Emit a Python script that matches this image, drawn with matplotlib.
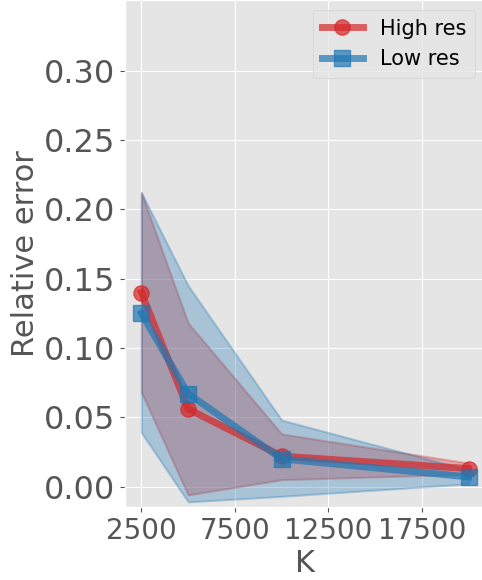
import matplotlib
matplotlib.use("Agg")
import matplotlib.pyplot as plt

plt.style.use("ggplot")

K = [2500, 5000, 10000, 20000]

high_mean = [0.140, 0.056, 0.022, 0.013]
high_lower = [0.068, -0.006, 0.005, 0.009]
high_upper = [0.212, 0.118, 0.038, 0.017]

low_mean = [0.125, 0.067, 0.020, 0.007]
low_lower = [0.039, -0.011, -0.007, 0.002]
low_upper = [0.212, 0.145, 0.048, 0.012]

RED = "#d62728"
BLUE = "#1f77b4"

fig = plt.figure(figsize=(4.82, 5.8), dpi=100)
ax = fig.add_axes([125 / 482, 73 / 580, 360 / 482, 507 / 580])

ax.fill_between(K, high_lower, high_upper, facecolor=RED, edgecolor=RED,
                alpha=0.3, linewidth=1.5, zorder=2)
ax.fill_between(K, low_lower, low_upper, facecolor=BLUE, edgecolor=BLUE,
                alpha=0.3, linewidth=1.5, zorder=2)

ax.plot(K, high_mean, color=RED, alpha=0.7, linewidth=5, marker="o",
        markersize=11, label="High res", zorder=3)
ax.plot(K, low_mean, color=BLUE, alpha=0.7, linewidth=5, marker="s",
        markersize=11, label="Low res", zorder=3)

ax.set_xlim(1625, 20875)
ax.set_ylim(-0.0147, 0.351)
ax.set_xticks([2500, 7500, 12500, 17500])
ax.set_yticks([0.00, 0.05, 0.10, 0.15, 0.20, 0.25, 0.30])
ax.set_yticklabels([f"{v:.2f}" for v in ax.get_yticks()])

ax.tick_params(axis="x", labelsize=20, colors="#555555")
ax.tick_params(axis="y", labelsize=23, colors="#555555")
ax.set_xlabel("K", fontsize=22, color="#555555", labelpad=3)
ax.set_ylabel("Relative error", fontsize=22, color="#555555", labelpad=3)

ax.legend(loc="upper right", fontsize=15)

fig.savefig("out.png", dpi=100)
